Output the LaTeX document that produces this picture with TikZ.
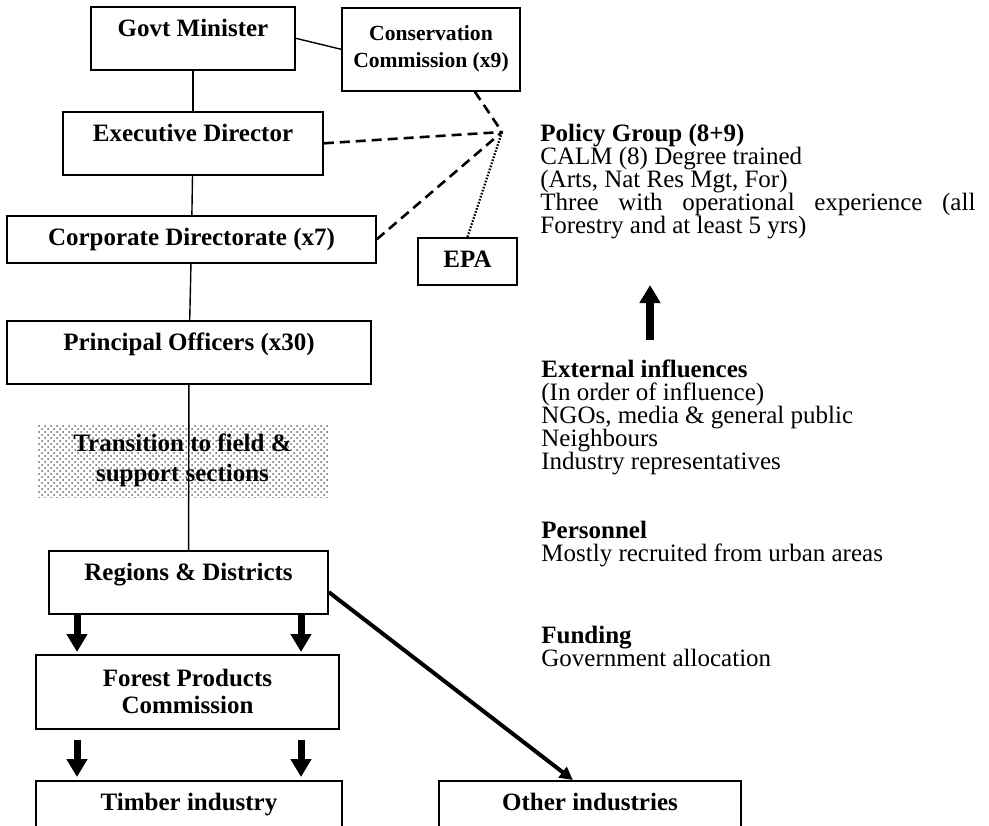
\documentclass[tikz,border=0pt]{standalone}
\usepackage{fontspec}
\setmainfont{Liberation Serif}
\usetikzlibrary{arrows.meta,patterns}
\hyphenpenalty=10000
\tolerance=10000

\begin{document}
\begin{tikzpicture}[x=0.5pt,y=-0.5pt,
  font=\fontsize{12.5}{13.5}\selectfont,
  box/.style={draw,line width=0.8pt,inner xsep=0pt,inner ysep=0pt,anchor=north,
    font=\fontsize{12.5}{13.5}\selectfont\bfseries},
  tallbox/.style={box,text height=15pt,text depth=16.5pt},
  lowbox/.style={box,text height=15pt,text depth=8.5pt},
  twobox/.style={box,align=center},
  notes/.style={anchor=base west,inner sep=0pt,align=left,
    font=\fontsize{12.5}{11.5}\selectfont},
  link/.style={line width=0.7pt},
  dashlink/.style={line width=1.3pt,dash pattern=on 5pt off 3pt},
  dotlink/.style={line width=1.1pt,dash pattern=on 0.8pt off 0.8pt},
  bigarrow/.style={line width=3.5pt,-{Triangle[width=10pt,length=9pt]}},
  slantarrow/.style={line width=2pt,-{Triangle[width=6.5pt,length=6.5pt]}}]
\clip (0,0) rectangle (989,825);

% chain of command
\node[tallbox,minimum width=102pt] (gm) at (193,6) {Govt Minister};
\node[twobox,minimum width=89pt,minimum height=41.5pt,
  font=\fontsize{10.8}{13.5}\selectfont\bfseries] (cc) at (431,7) {Conservation\\Commission (x9)};
\node[tallbox,minimum width=130pt] (ed) at (193,111) {Executive Director};
\node[lowbox,minimum width=184.5pt] (cd) at (191.5,215) {Corporate Directorate (x7)};
\node[lowbox,minimum width=49.5pt] (epa) at (467.5,237) {EPA};
\node[tallbox,minimum width=182pt] (po) at (189,320) {Principal Officers (x30)};
\node[box,draw=none,anchor=center,align=center,pattern=crosshatch dots,pattern color=black!60,
  minimum width=145.5pt,minimum height=36.5pt] (tr) at (182.5,460.5) {Transition to field \&\\[1.5pt]support sections};
\node[tallbox,minimum width=139.5pt] (rd) at (188.5,550) {Regions \& Districts};
\node[twobox,minimum width=151.5pt,minimum height=37pt] (fp) at (187.5,654) {Forest Products\\Commission};
\node[tallbox,minimum width=153pt] (tb) at (189,780) {Timber industry};
\node[tallbox,minimum width=151pt] (oi) at (590,780) {Other industries};

% notes on the right (base = last line)
\node[notes,text width=217.5pt,align=justify] (pg) at (540,141) {\textbf{Policy Group (8+9)}\\CALM (8) Degree trained\\(Arts, Nat Res Mgt, For)\\Three with operational experience (all Forestry and at least 5 yrs)};
\node[notes] (ei) at (541,469) {\textbf{External influences}\\(In order of influence)\\NGOs, media \& general public\\Neighbours\\Industry representatives};
\node[notes] (pe) at (541,561) {\textbf{Personnel}\\Mostly recruited from urban areas};
\node[notes] (fu) at (541,666) {\textbf{Funding}\\Government allocation};

% connectors
\draw[link] (gm.east) -- (cc.west);
\draw[link] (gm) -- (ed);
\draw[link] (ed) -- (cd);
\draw[link] (cd) -- (po);
\draw[link] (po) -- (rd);

\coordinate (meet) at (502,132);
\draw[dashlink] (cc.-44) -- (meet);
\draw[dashlink] (ed.east) -- (meet);
\draw[dashlink] (cd.east) -- (meet);
\draw[dotlink] (epa.north) -- (meet);

\coordinate (upfoot) at (650,340);
\coordinate (uptip) at (650,285);
\draw[bigarrow,line width=4pt] (upfoot) -- (uptip);

\foreach \ax in {77,301} {
  \draw[bigarrow,shorten >=1pt] (\ax,0 |- rd.south) -- (\ax,0 |- fp.north);
  \draw[bigarrow,shorten <=5pt,shorten >=1.5pt] (\ax,0 |- fp.south) -- (\ax,0 |- tb.north);
}
\draw[slantarrow] (rd.-4) -- (oi.118);
\end{tikzpicture}
\end{document}
